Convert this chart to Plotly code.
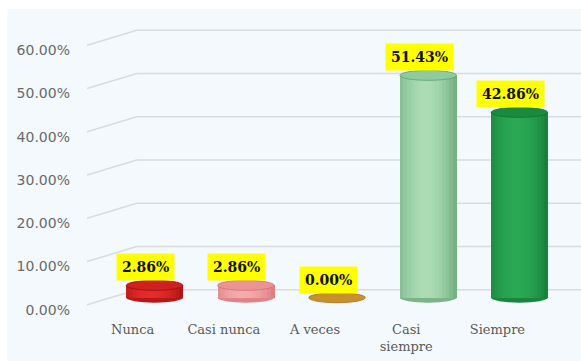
import plotly.graph_objects as go

# Survey response distribution (percentages)
categories = ["Nunca", "Casi nunca", "A veces", "Casi siempre", "Siempre"]
tick_text = ["Nunca", "Casi nunca", "A veces", "Casi<br>siempre", "Siempre"]
values = [2.86, 2.86, 0.00, 51.43, 42.86]
y_ticks = [0, 10, 20, 30, 40, 50, 60]

# Cylinder shading: (edge colour, highlight colour, cap colour)
edge_colors = ["#9c0c0c", "#d46e71", "#b07820", "#5f9e70", "#117232"]
high_colors = ["#e52b2b", "#f5aaab", "#e0a838", "#abdcb4", "#2aa854"]
cap_colors = ["#d21f1f", "#ea9496", "#c8912e", "#8fcb9e", "#1a8a3f"]

BAR_W = 0.62
N_STRIPS = 16


def hex_to_rgb(h):
    h = h.lstrip("#")
    return tuple(int(h[i:i + 2], 16) for i in (0, 2, 4))


def mix(c1, c2, w):
    a, b = hex_to_rgb(c1), hex_to_rgb(c2)
    r = [round(a[i] + (b[i] - a[i]) * w) for i in range(3)]
    return f"rgb({r[0]},{r[1]},{r[2]})"


fig = go.Figure()

# Each cylinder is built from vertical strips of a bar with a horizontal gradient
strip_w = BAR_W / N_STRIPS
for k in range(N_STRIPS):
    t = (k + 0.5) / N_STRIPS
    w = max(0.0, 1 - ((t - 0.45) / 0.62) ** 2)
    colors = [mix(e, h, w) for e, h in zip(edge_colors, high_colors)]
    fig.add_trace(go.Bar(
        x=categories, y=values,
        width=strip_w * 1.15,
        offset=-BAR_W / 2 + k * strip_w,
        marker=dict(color=colors, line=dict(width=0)),
        showlegend=False, hoverinfo="skip",
    ))

shapes = []
# light chart-area background
shapes.append(dict(type="rect", xref="paper", yref="paper",
                   x0=-0.223, x1=1.05, y0=-0.2, y1=1.041,
                   fillcolor="#f3f9fd", line=dict(width=0), layer="below"))

# back-wall gridlines with a short perspective segment on the left
for v in y_ticks:
    shapes.append(dict(type="line", xref="paper", yref="y",
                       ysizemode="pixel", yanchor=v,
                       x0=0.061, x1=1.05, y0=8, y1=8,
                       line=dict(color="#d8dcdf", width=1.5), layer="below"))
    shapes.append(dict(type="line", xref="paper", yref="y",
                       ysizemode="pixel", yanchor=v,
                       x0=-0.048, x1=0.061, y0=-7, y1=8,
                       line=dict(color="#d8dcdf", width=1.5), layer="below"))

# cylinder bottoms and caps
for i, v in enumerate(values):
    shapes.append(dict(type="circle", xref="x", yref="y",
                       ysizemode="pixel", yanchor=0,
                       x0=i - BAR_W / 2, x1=i + BAR_W / 2, y0=-5, y1=5,
                       fillcolor=mix(edge_colors[i], high_colors[i], 0.35),
                       line=dict(width=0), layer="below"))
    shapes.append(dict(type="circle", xref="x", yref="y",
                       ysizemode="pixel", yanchor=v,
                       x0=i - BAR_W / 2, x1=i + BAR_W / 2, y0=-5, y1=5,
                       fillcolor=cap_colors[i],
                       line=dict(color=edge_colors[i], width=0.8), layer="above"))

annotations = []
for i, v in enumerate(values):
    annotations.append(dict(
        x=categories[i], y=v, xref="x", yref="y",
        text=f"{v:.2f}%", showarrow=False,
        xanchor="center", yanchor="middle", xshift=-9, yshift=18,
        bgcolor="#ffff00", borderpad=5,
        font=dict(family="DejaVu Serif", size=14, color="#111111", weight="bold"),
    ))

fig.update_layout(
    width=581, height=361,
    margin=dict(l=109, r=16, t=21, b=46),
    paper_bgcolor="#ffffff",
    plot_bgcolor="rgba(0,0,0,0)",
    barmode="overlay",
    bargap=0,
    shapes=shapes,
    annotations=annotations,
    showlegend=False,
)
fig.update_xaxes(
    range=[-0.5, 4.5],
    tickvals=categories, ticktext=tick_text,
    ticklabelshift=-22,
    ticklabelstandoff=5,
    automargin=False,
    showgrid=False, zeroline=False, showline=False, ticks="",
    tickfont=dict(family="DejaVu Serif", size=13, color="#595959"),
)
fig.update_yaxes(
    range=[-4, 64],
    tickvals=y_ticks,
    ticktext=[f"{v:.2f}%" for v in y_ticks],
    ticklabelshift=12,
    ticklabelstandoff=38,
    automargin=False,
    showgrid=False, zeroline=False, showline=False, ticks="",
    tickfont=dict(family="DejaVu Sans", size=14, color="#6a6a6a"),
)

fig.write_html("out.html")
